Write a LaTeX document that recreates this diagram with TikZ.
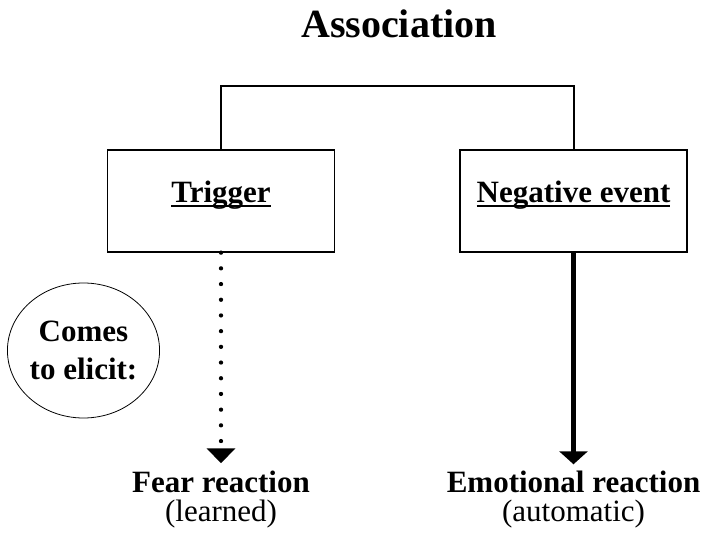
\documentclass[tikz,border=0pt]{standalone}
\usepackage{fontspec}
\setmainfont{Liberation Serif}
\usetikzlibrary{arrows.meta,shapes.geometric}
\newcommand\myul[1]{\setbox0\hbox{#1}\rlap{\rule[-5pt]{\wd0}{2pt}}\box0}
\begin{document}
\begin{tikzpicture}[x=1pt,y=-1pt,
  box/.style={draw,line width=1.3pt,minimum width=227pt,minimum height=102pt,inner sep=0pt,
    font=\fontsize{31}{36}\selectfont\bfseries,text height=13pt,text depth=10pt},
  lbl/.style={font=\fontsize{31}{38}\selectfont\bfseries,align=center,inner sep=0pt},
  sub/.style={font=\fontsize{31}{36}\selectfont,inner sep=0pt},
  link/.style={line width=2pt},
  dotarrow/.style={line width=4.3pt,line cap=round,dash pattern=on 0pt off 15.7pt,
    -{Triangle[width=28pt,length=15pt]},shorten >=7pt},
  solidarrow/.style={line width=5pt,-{Triangle[width=28pt,length=13pt]},shorten >=6pt},
]
\useasboundingbox (0,0) rectangle (707,534);
\node[font=\fontsize{40}{46}\selectfont\bfseries,anchor=base,inner sep=0pt] (title) at (399,38) {Association};
\node[box] (trig) at (221,201) {\myul{Trigger}};
\node[box] (neg) at (573.5,201) {\myul{Negative event}};
\draw[link] (trig.north) -- ++(0,-63) -| (neg.north);
\node[draw,ellipse,line width=0.8pt,minimum width=151pt,minimum height=135pt,lbl] (elicit) at (83.5,350.5) {Comes\\to elicit:};
\node[lbl,anchor=base] (fear) at (221,492) {Fear reaction};
\node[sub,anchor=base] (learned) at (221,521) {(learned)};
\node[lbl,anchor=base] (emo) at (573.5,492) {Emotional reaction};
\node[sub,anchor=base] (auto) at (573.5,521) {(automatic)};
\draw[dotarrow] (trig.south) -- (fear.north);
\draw[solidarrow] (neg.south) -- (emo.north);
\end{tikzpicture}
\end{document}
